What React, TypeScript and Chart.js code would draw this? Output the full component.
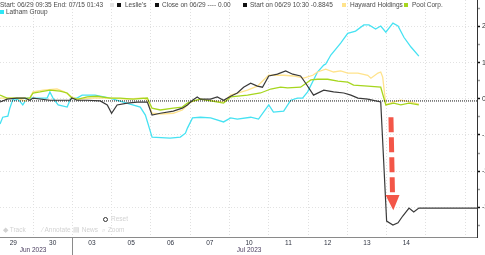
import React, { useEffect, useRef } from "react";
import { Chart, registerables } from "chart.js";
Chart.register(...registerables);

// ---- axis data ----
const dayLabels = ["29", "30", "03", "05", "06", "07", "10", "11", "12", "13", "14"];
const dayCenters = [0.5, 1.5, 2.5, 3.5, 4.5, 5.5, 6.5, 7.5, 8.5, 9.5, 10.5];
const dayBoundaries = [1, 2, 3, 4, 5, 6, 7, 8, 9, 10, 11, 12];
const monthLabels = ["Jun 2023", "Jul 2023"];
const monthCenters = [1.0, 6.5];
const monthSeparators = [2];
const yMajorTicks = [-3, -2, -1, 0, 1, 2];
const yMinorTicks = [-3.5, -2.5, -1.5, -0.5, 0.5, 1.5, 2.5];
const xRange = [0.16, 12.3];
const yRange = [-3.82, 2.73];

// ---- series (x in trading-day units, y in value units) ----
const lesliesX = [0.16, 0.34, 0.59, 0.8, 0.92, 1.0, 1.43, 1.94, 1.99, 2.12, 2.38, 2.71, 2.89, 3.0, 3.14, 3.4, 3.65, 3.91, 4.03, 4.24, 4.57, 4.8, 4.93, 5.06, 5.18, 5.26, 5.52, 5.69, 5.85, 6.03, 6.2, 6.36, 6.54, 6.71, 6.84, 7.0, 7.22, 7.43, 7.61, 7.81, 7.94, 8.14, 8.4, 8.65, 8.91, 9.09, 9.27, 9.52, 9.85, 10.0, 10.16, 10.29, 10.41, 10.57, 10.69, 10.82, 12.3];
const lesliesY = [-0.09, -0.01, 0.02, 0.02, -0.04, 0.02, -0.04, -0.04, 0.02, -0.04, -0.04, -0.06, -0.17, -0.4, -0.17, -0.12, -0.09, -0.09, -0.45, -0.4, -0.34, -0.26, -0.17, -0.04, 0.05, -0.01, -0.01, 0.05, -0.04, 0.07, 0.16, 0.32, 0.43, 0.35, 0.32, 0.63, 0.68, 0.77, 0.68, 0.63, 0.43, 0.1, 0.24, 0.19, 0.16, 0.1, 0.02, -0.01, -0.09, -3.38, -3.49, -3.43, -3.24, -3.02, -3.13, -3.02, -3.02];

const haywardX = [0.16, 0.59, 0.8, 0.92, 1.0, 1.26, 1.61, 1.8, 1.99, 2.12, 2.53, 2.96, 3.4, 3.73, 3.81, 3.91, 4.03, 4.24, 4.57, 4.8, 5.01, 5.26, 5.85, 6.03, 6.23, 6.46, 6.71, 6.87, 7.0, 7.38, 7.63, 7.89, 8.12, 8.24, 8.45, 8.65, 8.83, 9.01, 9.27, 9.52, 9.6, 9.78, 9.85, 9.9, 9.98, 10.16, 10.36, 10.62, 10.82];
const haywardY = [0.02, 0.02, -0.06, 0.02, 0.19, 0.24, 0.27, 0.19, 0.05, -0.01, 0.02, 0.02, -0.01, 0.02, 0.02, -0.04, -0.4, -0.42, -0.4, -0.31, -0.09, -0.01, -0.09, 0.1, 0.16, 0.24, 0.35, 0.52, 0.65, 0.65, 0.63, 0.57, 0.65, 0.74, 0.82, 0.74, 0.77, 0.71, 0.71, 0.65, 0.57, 0.71, 0.74, 0.6, -0.17, -0.09, -0.04, -0.09, -0.15];

const poolX = [0.16, 0.34, 0.59, 0.92, 1.0, 1.18, 1.43, 1.69, 1.87, 1.99, 2.15, 2.38, 2.63, 2.96, 3.22, 3.55, 3.91, 4.03, 4.24, 4.57, 4.8, 4.93, 5.08, 5.26, 5.85, 6.03, 6.46, 6.79, 7.05, 7.3, 7.48, 7.81, 8.07, 8.24, 8.5, 8.76, 9.01, 9.16, 9.52, 9.85, 9.98, 10.18, 10.36, 10.57, 10.82];
const poolY = [0.1, 0.02, 0.02, 0.02, 0.16, 0.19, 0.24, 0.21, 0.16, 0.02, -0.01, 0.05, 0.07, 0.02, 0.02, -0.01, 0.02, -0.26, -0.31, -0.26, -0.23, -0.12, -0.06, -0.01, -0.12, 0.05, 0.1, 0.16, 0.27, 0.32, 0.3, 0.32, 0.52, 0.54, 0.54, 0.49, 0.46, 0.38, 0.35, 0.32, -0.17, -0.12, -0.17, -0.12, -0.17];

const lathamX = [0.16, 0.23, 0.36, 0.41, 0.49, 0.54, 0.62, 0.74, 0.85, 0.92, 1.36, 1.43, 1.51, 1.64, 1.87, 1.94, 1.99, 2.12, 2.25, 2.58, 2.96, 3.3, 3.47, 3.73, 3.86, 4.03, 4.49, 4.75, 4.88, 4.93, 5.06, 5.26, 5.52, 5.85, 6.03, 6.2, 6.54, 6.74, 7.0, 7.12, 7.38, 7.56, 7.73, 7.86, 7.99, 8.24, 8.4, 8.45, 8.58, 8.83, 9.01, 9.21, 9.42, 9.55, 9.72, 9.85, 9.98, 10.16, 10.29, 10.44, 10.62, 10.82];
const lathamY = [-0.7, -0.51, -0.48, -0.26, -0.01, -0.04, -0.01, -0.17, 0.02, 0.02, 0.02, 0.19, 0.02, -0.17, -0.23, -0.04, 0.02, 0.02, 0.1, 0.1, 0.02, -0.09, -0.15, -0.23, -0.45, -1.06, -1.09, -1.06, -0.95, -0.81, -0.53, -0.51, -0.53, -0.64, -0.53, -0.56, -0.51, -0.56, -0.17, -0.37, -0.34, -0.04, 0.02, 0.02, 0.19, 0.74, 0.93, 0.96, 1.21, 1.54, 1.81, 1.87, 2.04, 2.04, 1.93, 2.01, 1.84, 2.09, 2.01, 1.7, 1.43, 1.18];

const closeRefX = [0.16, 12.3];
const closeRefY = [-0.06, -0.06];

// annotation arrow: start, arrowhead base, tip
const arrowX = [10.11, 10.15, 10.17];
const arrowY = [-0.51, -2.66, -3.08];

const zip = (xs: number[], ys: number[]) => xs.map((x, i) => ({ x, y: ys[i] }));

const FONT = "'Liberation Sans', Arial, sans-serif";

const overlayPlugin = {
  id: "overlay",
  afterDatasetsDraw(chart: any) {
    const { ctx, scales } = chart;
    const xs = scales.x;
    const ys = scales.y;
    const p0 = { x: xs.getPixelForValue(arrowX[0]), y: ys.getPixelForValue(arrowY[0]) };
    const p1 = { x: xs.getPixelForValue(arrowX[1]), y: ys.getPixelForValue(arrowY[1]) };
    const p2 = { x: xs.getPixelForValue(arrowX[2]), y: ys.getPixelForValue(arrowY[2]) };
    ctx.save();
    ctx.strokeStyle = "rgba(242,72,56,0.92)";
    ctx.fillStyle = "rgba(242,72,56,0.92)";
    ctx.lineWidth = 5;
    ctx.setLineDash([15, 5]);
    ctx.beginPath();
    ctx.moveTo(p0.x, p0.y);
    ctx.lineTo(p1.x, p1.y);
    ctx.stroke();
    ctx.setLineDash([]);
    ctx.beginPath();
    ctx.moveTo(p1.x - 7, p1.y);
    ctx.lineTo(p1.x + 7, p1.y);
    ctx.lineTo(p2.x, p2.y);
    ctx.closePath();
    ctx.fill();
    ctx.restore();
  },
  afterDraw(chart: any) {
    const { ctx, scales, height } = chart;
    const xs = scales.x;
    ctx.save();
    ctx.strokeStyle = "#8a8a8a";
    ctx.lineWidth = 1;
    monthSeparators.forEach((v) => {
      const px = Math.round(xs.getPixelForValue(v)) + 0.5;
      ctx.beginPath();
      ctx.moveTo(px, xs.top);
      ctx.lineTo(px, height);
      ctx.stroke();
    });
    ctx.fillStyle = "#4a3d5e";
    ctx.font = `6.5px ${FONT}`;
    ctx.textAlign = "center";
    ctx.textBaseline = "middle";
    monthLabels.forEach((lab, i) => {
      ctx.fillText(lab, xs.getPixelForValue(monthCenters[i]), height - 5);
    });
    ctx.restore();
  },
};

const isMajor = (v: number) => yMajorTicks.includes(v);

export default function App() {
  const ref = useRef<HTMLCanvasElement | null>(null);
  useEffect(() => {
    if (!ref.current) return;
    const chart = new Chart(ref.current, {
      type: "line",
      data: {
        datasets: [
          { label: "Leslie's", data: zip(lesliesX, lesliesY), borderColor: "#3a3a3a", borderWidth: 1.2 },
          { label: "Close on 06/29", data: zip(closeRefX, closeRefY), borderColor: "#111", borderWidth: 1, borderDash: [1, 1] },
          { label: "Pool Corp.", data: zip(poolX, poolY), borderColor: "#a6d61e", borderWidth: 1.3 },
          { label: "Hayward Holdings", data: zip(haywardX, haywardY), borderColor: "#ffe38c", borderWidth: 1.3 },
          { label: "Latham Group", data: zip(lathamX, lathamY), borderColor: "#46e2f2", borderWidth: 1.3 },
        ] as any,
      },
      options: {
        animation: false,
        responsive: false,
        devicePixelRatio: 1,
        layout: { padding: 0 },
        elements: { point: { radius: 0 }, line: { tension: 0 } },
        plugins: { legend: { display: false }, tooltip: { enabled: false } },
        scales: {
          x: {
            type: "linear",
            position: "bottom",
            min: xRange[0],
            max: xRange[1],
            afterBuildTicks: (s: any) => {
              s.ticks = dayCenters.map((v) => ({ value: v }));
            },
            afterFit: (s: any) => {
              s.height = 18;
              s.paddingLeft = 0;
              s.paddingRight = 0;
            },
            grid: { display: false, drawTicks: false },
            border: { display: true, color: "#8a8a8a", width: 1 },
            ticks: {
              autoSkip: false,
              maxRotation: 0,
              padding: 2,
              color: "#2e3340",
              font: { size: 6.5, family: FONT },
              callback: (v: any) => {
                const i = dayCenters.indexOf(Number(v));
                return i >= 0 ? dayLabels[i] : "";
              },
            },
          },
          x2: {
            type: "linear",
            position: "top",
            min: xRange[0],
            max: xRange[1],
            afterBuildTicks: (s: any) => {
              s.ticks = dayBoundaries.map((v) => ({ value: v }));
            },
            afterFit: (s: any) => {
              s.height = 0;
              s.paddingLeft = 0;
              s.paddingRight = 0;
            },
            grid: { display: true, drawTicks: false, color: "#e0e0e0", lineWidth: 1 },
            border: { display: true, width: 0, color: "rgba(0,0,0,0)", dash: [1, 2] },
            ticks: { display: false },
          },
          y: {
            type: "linear",
            position: "right",
            min: yRange[0],
            max: yRange[1],
            afterBuildTicks: (s: any) => {
              s.ticks = [...yMinorTicks, ...yMajorTicks].sort((a, b) => a - b).map((v) => ({ value: v }));
            },
            afterFit: (s: any) => {
              s.width = 18;
              s.paddingTop = 0;
              s.paddingBottom = 0;
            },
            grid: {
              display: true,
              drawTicks: true,
              tickLength: 3,
              tickWidth: 1.5,
              color: (c: any) => (c.tick && isMajor(c.tick.value) ? "#e2e2e2" : "rgba(0,0,0,0)"),
              tickColor: (c: any) => (c.tick && isMajor(c.tick.value) ? "#111" : "#9a9a9a"),
            },
            border: { display: true, color: "#333", width: 1, dash: [1, 2] },
            ticks: {
              padding: 2,
              color: "#333",
              font: { size: 7, family: FONT },
              callback: (v: any) => (isMajor(Number(v)) ? String(v) : ""),
            },
          },
        },
      } as any,
      plugins: [overlayPlugin],
    });
    return () => chart.destroy();
  }, []);

  const txt: React.CSSProperties = {
    position: "absolute",
    fontFamily: FONT,
    fontSize: "6.5px",
    lineHeight: "8px",
    whiteSpace: "nowrap",
    color: "#4a4a4a",
  };
  const sq = (left: number, top: number, color: string): React.CSSProperties => ({
    position: "absolute",
    left,
    top,
    width: 4,
    height: 4,
    background: color,
  });
  const tool: React.CSSProperties = { ...txt, color: "#d2d2d2" };

  return (
    <div style={{ position: "fixed", left: 0, top: 0, width: 485, height: 255, overflow: "hidden", background: "#fff" }}>
      <canvas ref={ref} width={495} height={255} style={{ display: "block", width: 495, height: 255 }} />
      <span style={{ ...txt, left: 0, top: 1 }}>Start: 06/29 09:35 End: 07/15 01:43</span>
      <span style={sq(110, 3, "#e3e3e3")} />
      <span style={sq(117, 3, "#111")} />
      <span style={{ ...txt, left: 125, top: 1 }}>Leslie's</span>
      <span style={sq(155, 3, "#111")} />
      <span style={{ ...txt, left: 162, top: 1 }}>Close on 06/29 ---- 0.00</span>
      <span style={sq(243, 3, "#111")} />
      <span style={{ ...txt, left: 250, top: 1 }}>Start on 06/29 10:30 -0.8845</span>
      <span style={sq(342, 3, "#ffe38c")} />
      <span style={{ ...txt, left: 350, top: 1 }}>Hayward Holdings</span>
      <span style={sq(404, 3, "#a6d61e")} />
      <span style={{ ...txt, left: 412, top: 1 }}>Pool Corp.</span>
      <span style={sq(0, 10, "#2ee6f5")} />
      <span style={{ ...txt, left: 6, top: 8 }}>Latham Group</span>

      <span
        style={{
          position: "absolute",
          left: 103,
          top: 217,
          width: 3,
          height: 3,
          borderRadius: "50%",
          border: "1.3px solid #333",
        }}
      />
      <span style={{ ...tool, left: 111, top: 215 }}>Reset</span>
      <span style={{ ...tool, left: 3, top: 226 }}>◆ Track</span>
      <span style={{ ...tool, left: 42, top: 226 }}>⁄ Annotate</span>
      <span style={{ ...tool, left: 73, top: 226 }}>▤ News</span>
      <span style={{ ...tool, left: 102, top: 226 }}>⌕ Zoom</span>
    </div>
  );
}
